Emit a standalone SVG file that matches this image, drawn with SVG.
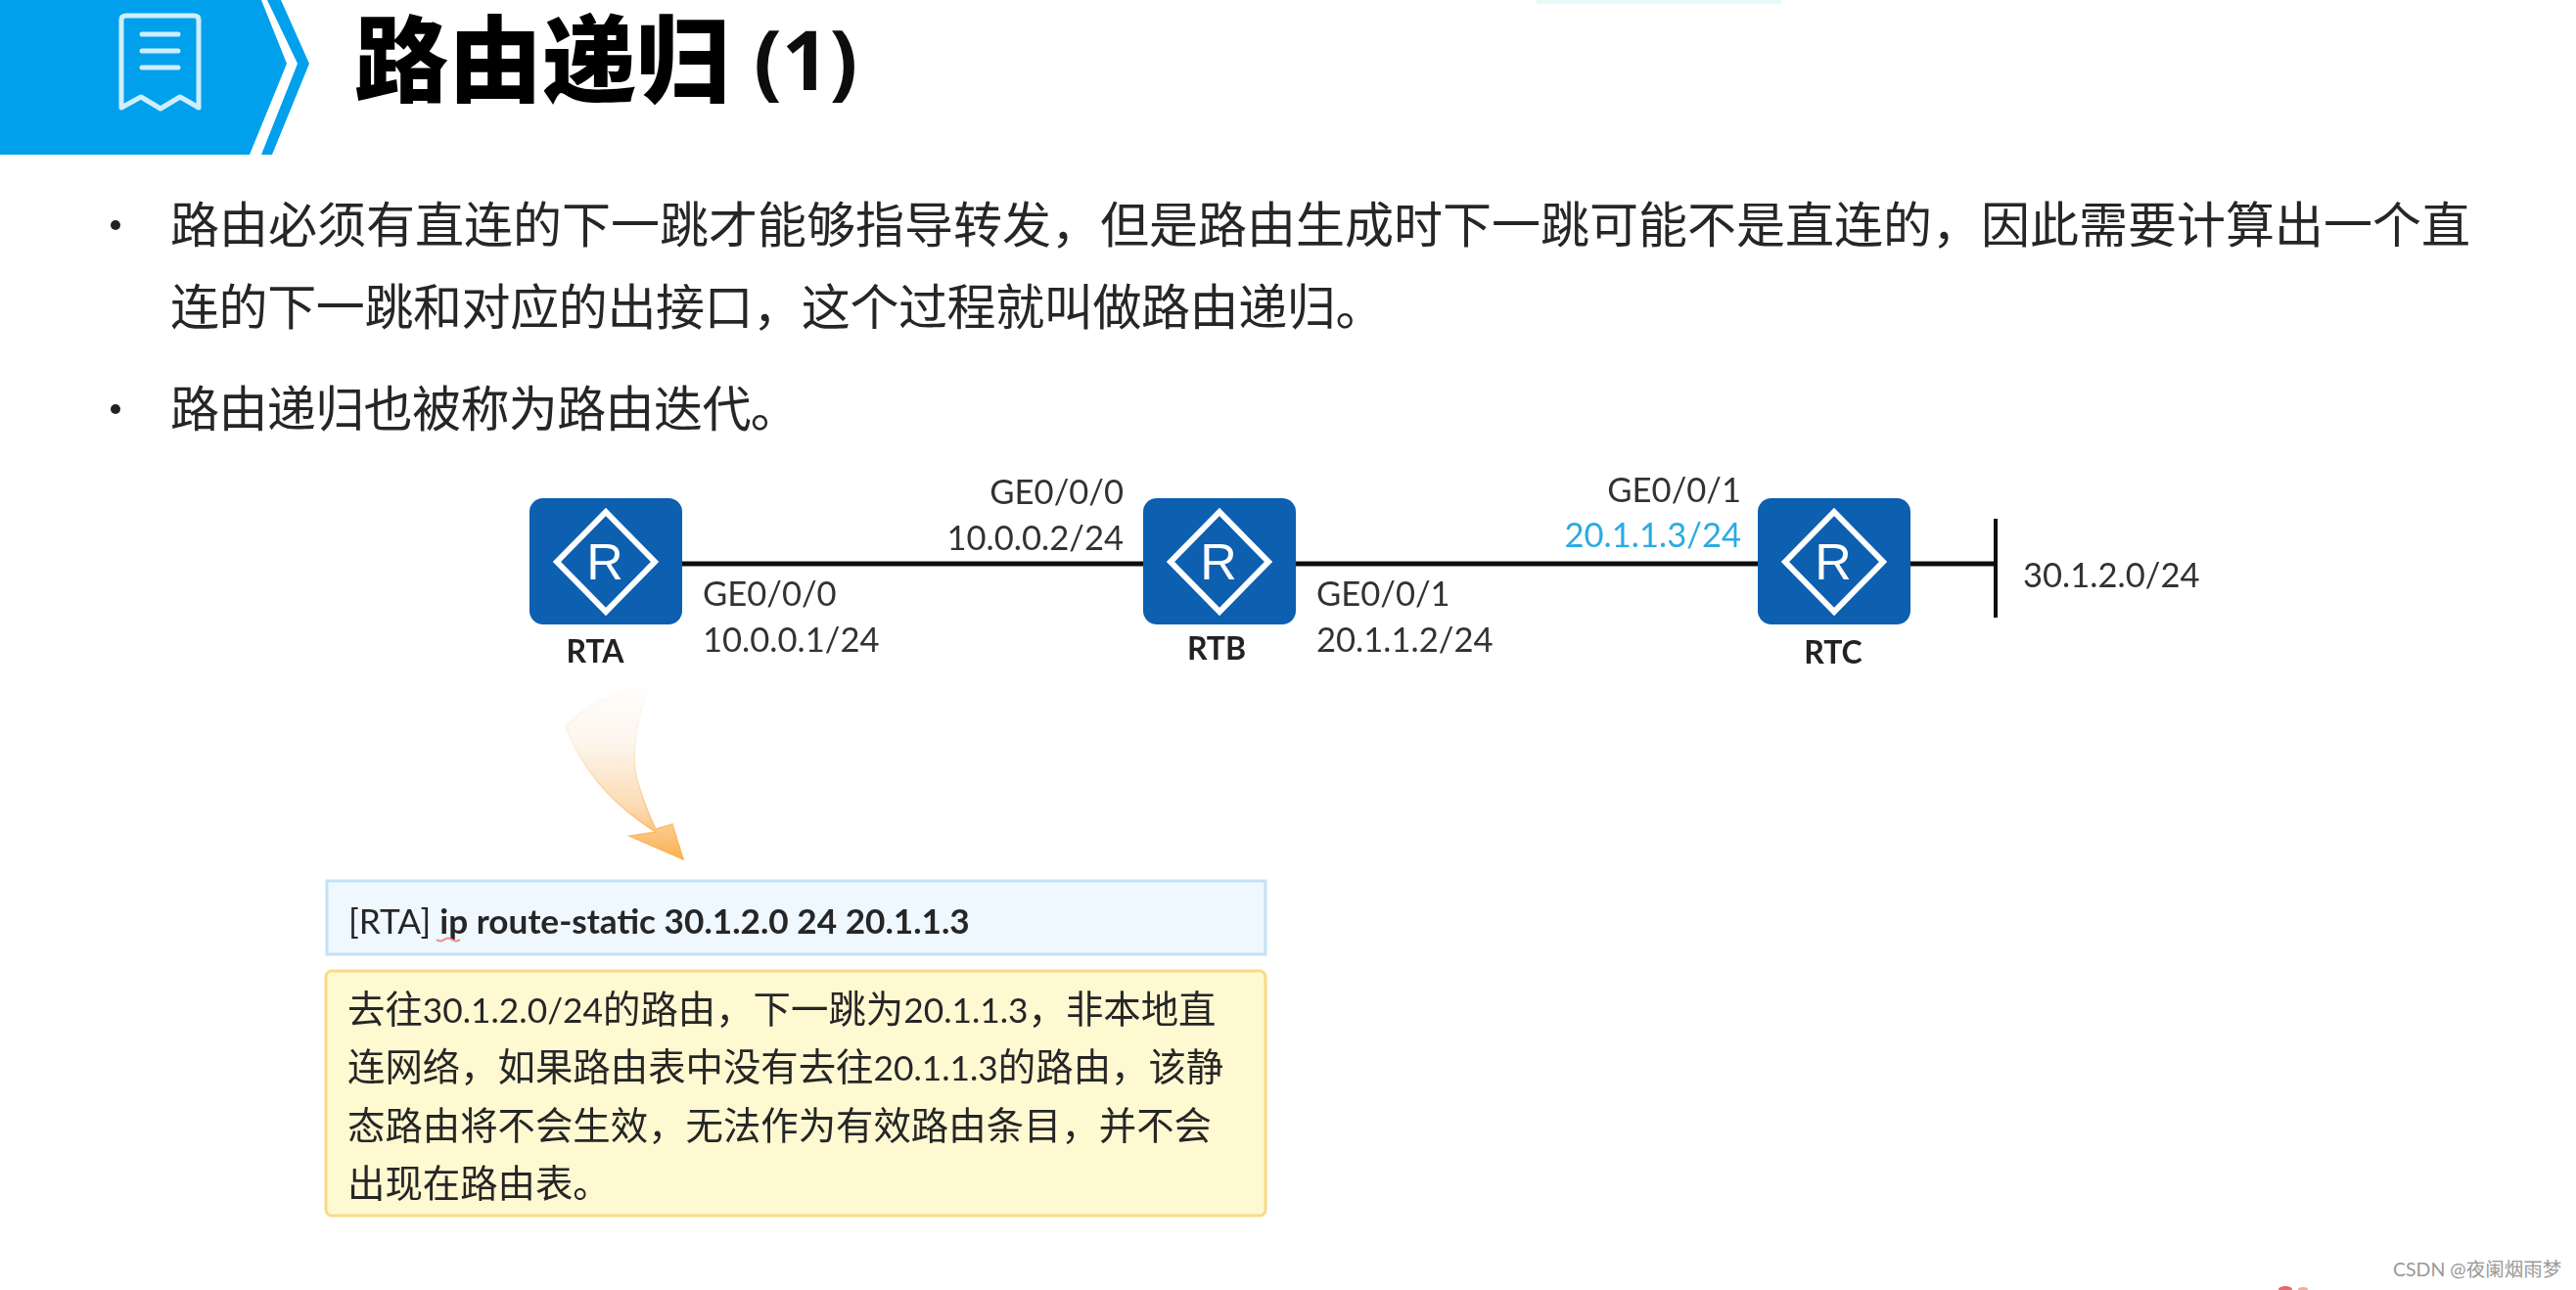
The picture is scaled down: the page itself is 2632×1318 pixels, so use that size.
<svg xmlns="http://www.w3.org/2000/svg" width="2632" height="1318" viewBox="0 0 2632 1318">
<style>
text{font-family:"Lato","Noto Sans CJK SC",sans-serif;fill:#262626}
.b{font-size:50px;font-family:"Noto Sans CJK SC",sans-serif}
.l{font-size:34.6px;fill:#333}
.n{font-size:32px;font-weight:700;text-anchor:middle;fill:#222}
.r{font-size:52px;text-anchor:middle;fill:#fff;font-family:"Liberation Sans",sans-serif}
.y{font-size:38.4px}
.y tspan{font-size:35.3px}
.box{fill:#0f5fb0}
.dia{fill:none;stroke:#fff;stroke-width:6}
.w{fill:none;stroke:#cdeefc;stroke-width:5;stroke-linecap:round;stroke-linejoin:round}
</style>
<defs>
<linearGradient id="arr" gradientUnits="userSpaceOnUse" x1="0" y1="693" x2="0" y2="878"><stop offset="0" stop-color="#fff" stop-opacity="0"/><stop offset=".12" stop-color="#fefbf8"/><stop offset=".35" stop-color="#fdf6ee"/><stop offset=".7" stop-color="#fcdcb4"/><stop offset="1" stop-color="#fbb050"/></linearGradient>
<linearGradient id="arrS" gradientUnits="userSpaceOnUse" x1="0" y1="693" x2="0" y2="878"><stop offset="0" stop-color="#fbc384" stop-opacity="0"/><stop offset=".4" stop-color="#fbc384" stop-opacity=".25"/><stop offset="1" stop-color="#fbb050"/></linearGradient>
<filter id="soft" x="-2%" y="-2%" width="104%" height="104%"><feGaussianBlur stdDeviation="0.7"/></filter>
</defs>
<rect width="2632" height="1318" fill="#fff"/>
<g filter="url(#soft)">
<rect x="1570" y="0" width="250" height="4" fill="#e6fafa"/>
<g id="header">
<polygon points="0,0 267,0 293,65 255,158 0,158" fill="#00a0ec"/>
<polygon points="273,0 287,0 316,65 278,158 267,158 304,65" fill="#00a0ec"/>
<path class="w" d="M124,20Q124,16 129,16H198Q203,16 203,20V110L184,99 164,111 144,99 124,110Z"/>
<path class="w" d="M145,35H182M145,52H182M145,69H182"/>
<text x="362" y="96" font-size="96" font-weight="900" style="font-family:'Noto Sans CJK SC',sans-serif;fill:#000">路由递归</text>
<text x="770" y="92" font-size="85" font-weight="700" style="font-family:'Open Sans',sans-serif;fill:#111">(1)</text>
</g>
<g id="bullets">
<circle cx="118" cy="230" r="5" fill="#222"/>
<text class="b" x="174" y="248">路由必须有直连的下一跳才能够指导转发，但是路由生成时下一跳可能不是直连的，因此需要计算出一个直</text>
<text class="b" x="174" y="332" letter-spacing="-0.4">连的下一跳和对应的出接口，这个过程就叫做路由递归。</text>
<circle cx="118" cy="418" r="5" fill="#222"/>
<text class="b" x="174" y="436" letter-spacing="-0.6">路由递归也被称为路由迭代。</text>
</g>
<g id="connectors">
<path d="M697,576H1168M1324,576H1796M1952,576H2039" stroke="#111" stroke-width="5" fill="none"/>
<path d="M2039,530V631" stroke="#111" stroke-width="4" fill="none"/>
<path d="M668,693C650,730 643,775 653,803C658,820 664,835 670,847L687,842L698,878L643,854L670,850C630,825 596,790 578,743C590,725 630,705 668,693Z" fill="url(#arr)" stroke="url(#arrS)" stroke-width="1.5"/>
</g>
<g id="RTA">
<rect class="box" x="541" y="509" width="156" height="129" rx="14"/>
<polygon class="dia" points="619,523 669,574 619,625 569,574"/>
<text class="r" x="618" y="592">R</text>
<text class="n" x="608" y="677">RTA</text>
</g>
<g id="RTB">
<rect class="box" x="1168" y="509" width="156" height="129" rx="14"/>
<polygon class="dia" points="1246,523 1296,574 1246,625 1196,574"/>
<text class="r" x="1245" y="592">R</text>
<text class="n" x="1243" y="674">RTB</text>
</g>
<g id="RTC">
<rect class="box" x="1796" y="509" width="156" height="129" rx="14"/>
<polygon class="dia" points="1874,523 1924,574 1874,625 1824,574"/>
<text class="r" x="1873" y="592">R</text>
<text class="n" x="1873" y="678">RTC</text>
</g>
<g id="labels">
<text class="l" x="1148" y="515" text-anchor="end">GE0/0/0</text>
<text class="l" x="1148" y="562" text-anchor="end">10.0.0.2/24</text>
<text class="l" x="718" y="619">GE0/0/0</text>
<text class="l" x="718" y="666">10.0.0.1/24</text>
<text class="l" x="1779" y="513" text-anchor="end">GE0/0/1</text>
<text class="l" x="1779" y="559" text-anchor="end" style="fill:#29abe2">20.1.1.3/24</text>
<text class="l" x="1345" y="619">GE0/0/1</text>
<text class="l" x="1345" y="666">20.1.1.2/24</text>
<text class="l" x="2067" y="600">30.1.2.0/24</text>
</g>
<g id="command">
<rect x="334" y="900" width="959" height="75" fill="#eef8fe" stroke="#c3e2f6" stroke-width="3"/>
<text x="356" y="954" font-size="35.2">[RTA] <tspan font-weight="700">ip route-static 30.1.2.0 24 20.1.1.3</tspan></text>
<path d="M446,960q4,3 8,0t8,0t8,0" fill="none" stroke="#e88" stroke-width="2"/>
</g>
<g id="note">
<rect x="333" y="992" width="960" height="250" rx="6" fill="#fff9d2" stroke="#f9db84" stroke-width="3"/>
<text class="y" x="355" y="1045">去往<tspan>30.1.2.0/24</tspan>的路由，下一跳为<tspan>20.1.1.3</tspan>，非本地直</text>
<text class="y" x="355" y="1104">连网络，如果路由表中没有去往<tspan>20.1.1.3</tspan>的路由，该静</text>
<text class="y" x="355" y="1164">态路由将不会生效，无法作为有效路由条目，并不会</text>
<text class="y" x="355" y="1223">出现在路由表。</text>
</g>
<g id="marks">
<ellipse cx="2335" cy="1317" rx="7" ry="3" fill="#e66"/>
<ellipse cx="2353" cy="1317" rx="5" ry="2" fill="#f0b0a0"/>
</g>
</g>
<text x="2445" y="1304" font-size="19.5" style="fill:#999">CSDN @夜阑烟雨梦</text>
</svg>
